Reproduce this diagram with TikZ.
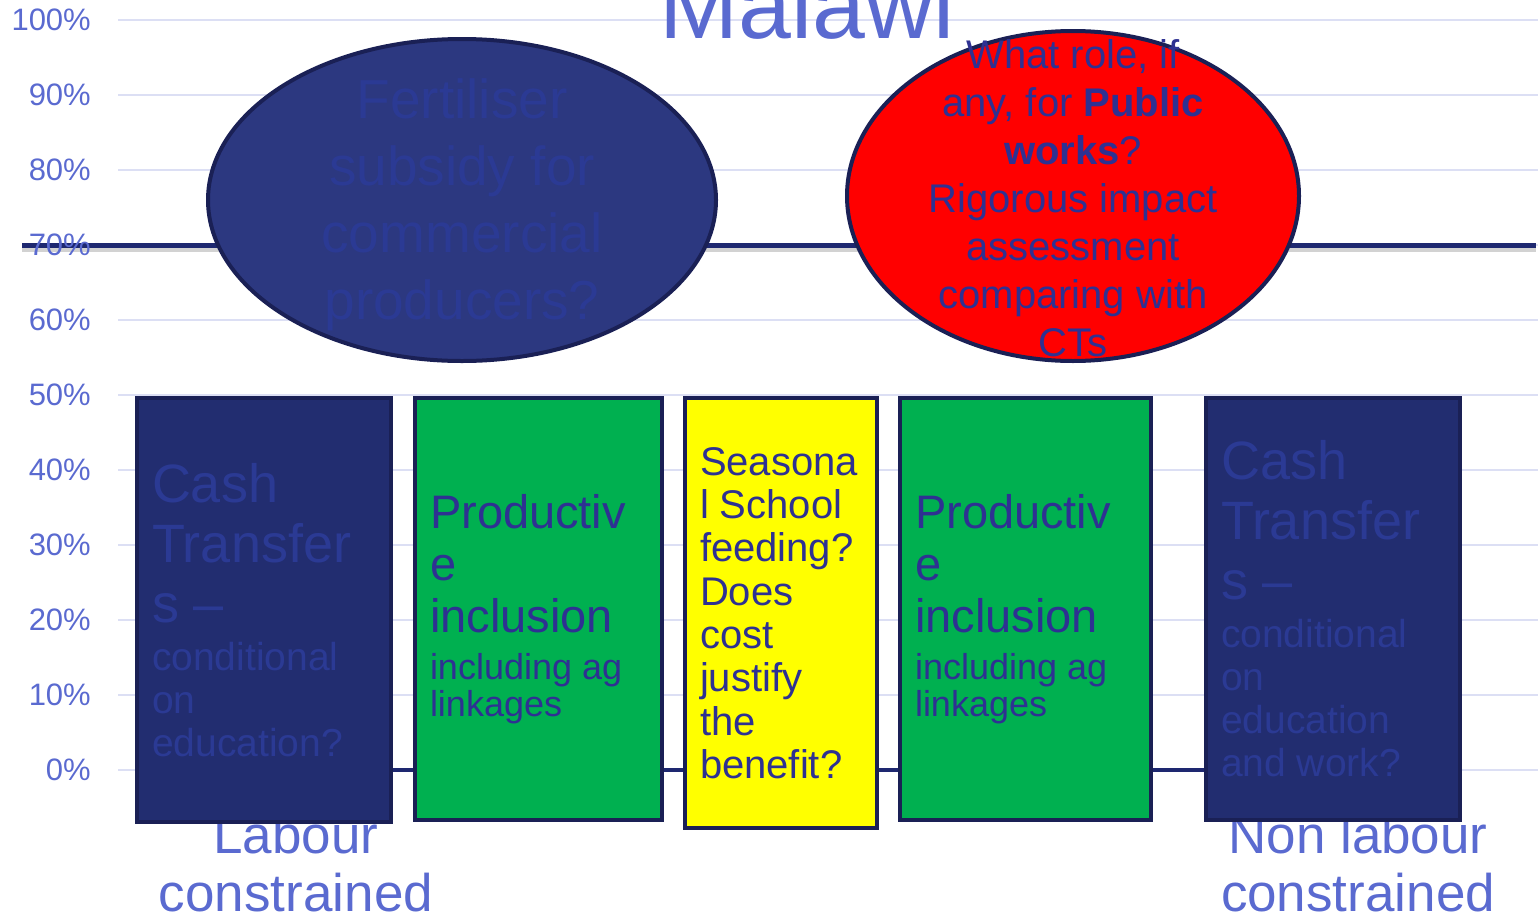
\documentclass[tikz,border=0pt]{standalone}
\usepackage{fontspec}
\setmainfont{Liberation Sans}
\usepackage{tikz}
\usetikzlibrary{positioning, shapes.geometric, backgrounds}
\usepackage{xcolor}
\definecolor{axisblue}{HTML}{5A6AD0}
\definecolor{gridlav}{HTML}{DCDFF4}
\definecolor{navyline}{HTML}{1E2870}
\definecolor{edgenavy}{HTML}{1A2055}
\definecolor{fertfill}{HTML}{2C3880}
\definecolor{cashfill}{HTML}{222D70}
\definecolor{fainttxt}{HTML}{2B3A94}
\definecolor{boxtxt}{HTML}{2E3192}
\definecolor{ctgreen}{HTML}{00B050}
\definecolor{ctyellow}{HTML}{FFFF00}
\definecolor{ctred}{HTML}{FF0000}
\newcommand{\fsz}[2]{\fontsize{#1}{#2}\selectfont}

\begin{document}
\begin{tikzpicture}[x=1pt, y=1pt,
    optbox/.style={draw=edgenavy, line width=4pt, inner xsep=15pt, inner ysep=0pt, align=flush left, anchor=north west},
    blob/.style={ellipse, draw=edgenavy, line width=4pt, inner sep=0pt},
    grp/.style={text=axisblue, align=center, inner sep=0pt}]
  \useasboundingbox (0,0) rectangle (1538,-918);

  % Title
  \node[text=axisblue, font=\fsz{95}{100}, anchor=base] (malawi) at (807,-38) {Malawi};

  % Group labels (behind the boxes)
  \node[grp, font=\fsz{53}{58}, anchor=north] (labour) at (296,-815) {Labour\\constrained};
  \node[grp, font=\fsz{53}{58}, anchor=north] (nonlabour) at (1358,-815) {Non labour\\constrained};

  % Options
  \node[optbox, fill=cashfill, text=fainttxt, text width=224pt, minimum width=254pt, minimum height=424pt] (cashlc) at (135,-396)
    {{\fsz{54}{60}Cash\\Transfer\\s –\par}\vspace{5pt}{\fsz{39}{43}conditional\\on\\education?\par}};
  \node[optbox, fill=ctgreen, text=boxtxt, text width=217pt, minimum width=247pt, minimum height=422pt, right=20pt of cashlc.north east, anchor=north west] (prodl)
    {{\fsz{47}{52}Productiv\\e\\inclusion\par}\vspace{10pt}{\fsz{36}{37}including ag\\linkages\par}};
  \node[optbox, fill=ctyellow, text=boxtxt, text width=162pt, minimum width=192pt, minimum height=430pt, right=19pt of prodl.north east, anchor=north west] (school)
    {\fsz{40}{43.3}Seasona\\l School\\feeding?\\Does\\cost\\justify\\the\\benefit?\par};
  \node[optbox, fill=ctgreen, text=boxtxt, text width=221pt, minimum width=251pt, minimum height=422pt, right=19pt of school.north east, anchor=north west] (prodr)
    {{\fsz{47}{52}Productiv\\e\\inclusion\par}\vspace{10pt}{\fsz{36}{37}including ag\\linkages\par}};
  \node[optbox, fill=cashfill, text=fainttxt, text width=224pt, minimum width=254pt, minimum height=422pt, right=51pt of prodr.north east, anchor=north west] (cashnl)
    {{\fsz{54}{60}Cash\\Transfer\\s –\par}\vspace{5pt}{\fsz{39}{43}conditional\\on\\education\\and work?\par}};

  % Questions
  \node[blob, fill=fertfill, minimum width=508pt, minimum height=322pt] (fert) at (462,-200) {};
  \node[text=fainttxt, align=center, font=\fsz{55}{67}] (ferttxt) at (462,-205)
    {Fertiliser\\subsidy for\\commercial\\producers?};
  \node[blob, fill=ctred, minimum width=452pt, minimum height=330pt] (pubw) at (1073,-196) {};
  \node[text=boxtxt, align=center, font=\fsz{40}{48}] (pubwtxt) at (1073,-198)
    {What role, if\\any, for \textbf{Public}\\\textbf{works}?\\Rigorous impact\\assessment\\comparing with\\CTs};

  % Axis
  \begin{scope}[on background layer]
    \coordinate (zero) at (0,-770);
    \coordinate (lineL) at (22,-245);
    \coordinate (lineR) at (1536,-245);
    \foreach \v in {0,10,...,100}
      \draw[gridlav, line width=2.5pt] (118,{-770+7.5*\v}) -- (1538,{-770+7.5*\v});
    \draw[gray!35, line width=5pt] ([yshift=-4pt]lineL) -- ([yshift=-4pt]lineR);
    \draw[navyline, line width=5pt] (lineL) -- (lineR);
    \foreach \v in {0,10,...,100}
      \node[text=axisblue, font=\fsz{31}{34}, anchor=east, inner sep=0pt] at (91,{-770+7.5*\v}) {\v\%};
    \draw[navyline, line width=4pt] (cashlc |- zero) -- (cashnl |- zero);
  \end{scope}
\end{tikzpicture}
\end{document}
